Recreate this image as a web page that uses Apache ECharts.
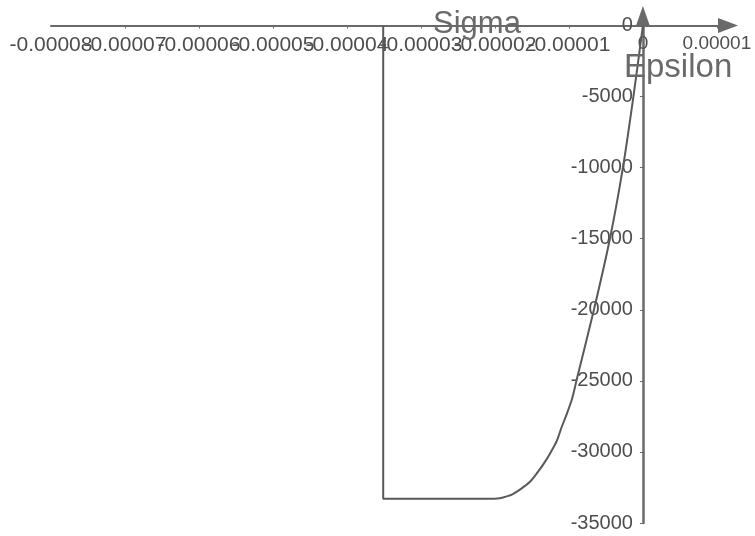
<!DOCTYPE html>
<html>
<head>
<meta charset="utf-8">
<script src="https://cdn.jsdelivr.net/npm/echarts@6/dist/echarts.min.js"></script>
<style>
html,body{margin:0;padding:0;background:#ffffff;}
#chart{width:755px;height:536px;}
</style>
</head>
<body>
<div id="chart"></div>
<script>
// Loading branch (curve)
const epsilonLoad = [0, -0.000001284, -0.000002703, -0.000004459, -0.000006622, -0.000008986, -0.000009595,
  -0.00001027, -0.000011014, -0.000011622, -0.000012432, -0.000013243, -0.000014189, -0.00001527,
  -0.000016486, -0.000017703, -0.000018919, -0.00002];
const sigmaLoad = [0, -5000, -10000, -15000, -20000, -25000, -26300,
  -27300, -28300, -29200, -30000, -30700, -31400, -32100,
  -32600, -33000, -33200, -33300];
// Plateau and unloading branch
const epsilonPlateau = [-0.00002, -0.0000351, -0.0000351];
const sigmaPlateau   = [-33300, -33300, 0];

// Axes
const xMin = -0.00008, xMax = 0.0000115, xStep = 0.00001;
const yMin = -35000, yMax = 670, yStep = 5000;
const xTickLabels = ['-0.00008','-0.00007','-0.00006','-0.00005','-0.00004','-0.00003','-0.00002','-0.00001','0','0.00001'];
const yTickLabels = ['-35000','-30000','-25000','-20000','-15000','-10000','-5000','0'];
const xName = 'Epsilon', yName = 'Sigma';

const axisColor = '#6a6a6a';
const textColor = '#4e4e4e';
const lineColor = '#595959';

// grid geometry
const gridLeft = 51, gridRight = 27, gridTop = 16, gridBottom = 13;
const W = 755, H = 536;
const gw = W - gridLeft - gridRight, gh = H - gridTop - gridBottom;
// place the axes through the origin (offset from their default edge)
const yAxisOffset = -gw * (0 - xMin) / (xMax - xMin);
const xAxisOffset = -gh * (0 - yMin) / (yMax - yMin);

function pairs(xs, ys){ return xs.map((x,i)=>[x, ys[i]]); }

function xIndex(v){
  const i = Math.round((v - xMin) / xStep);
  return Math.abs(v - (xMin + i * xStep)) > xStep * 1e-3 ? -1 : i;
}
// main axis: every tick label except the first
function xLabel(v){
  const i = xIndex(v);
  if (i <= 0) return '';
  const t = xTickLabels[i];
  if (t === undefined) return '';
  return (t.charAt(0) === '-') ? t : '{p|' + t + '}';
}
// helper axis: only the first tick label (kept even though it overlaps its neighbour)
function xFirstLabel(v){
  return xIndex(v) === 0 ? xTickLabels[0] : '';
}
function yLabel(v){
  const i = Math.round((v - yMin) / yStep);
  if (Math.abs(v - (yMin + i * yStep)) > 1e-6) return '';
  const t = yTickLabels[i];
  return t === undefined ? '' : t;
}

const baseX = {
  type: 'value', min: xMin, max: xMax, interval: xStep, position: 'bottom', offset: xAxisOffset,
  splitLine: {show: false}
};

const chart = echarts.init(document.getElementById('chart'), null, {renderer:'canvas'});
chart.setOption({
  backgroundColor: '#ffffff',
  animation: false,
  grid: {left: gridLeft, right: gridRight, top: gridTop, bottom: gridBottom, containLabel: false, outerBoundsMode: 'none'},
  xAxis: [
    Object.assign({}, baseX, {
      axisLine: {onZero: false, symbol: ['none','triangle'], symbolSize: [15, 20], lineStyle: {color: axisColor, width: 2}},
      axisTick: {show: true, length: 3, lineStyle: {color: axisColor}},
      axisLabel: {
        formatter: xLabel, margin: 9, fontSize: 21, color: textColor, fontFamily: 'Liberation Sans',
        hideOverlap: false, showMinLabel: false, showMaxLabel: false,
        rich: {p: {fontSize: 19, color: textColor, fontFamily: 'Liberation Sans'}}
      }
    }),
    Object.assign({}, baseX, {
      axisLine: {show: false, onZero: false},
      axisTick: {show: false},
      axisLabel: {
        formatter: xFirstLabel, margin: 9, fontSize: 21, color: textColor, fontFamily: 'Liberation Sans',
        hideOverlap: false, showMinLabel: true, showMaxLabel: false
      }
    })
  ],
  yAxis: {
    type: 'value', min: yMin, max: yMax, interval: yStep, position: 'left', offset: yAxisOffset,
    axisLine: {onZero: false, symbol: ['none','triangle'], symbolSize: [14, 20], lineStyle: {color: axisColor, width: 2.5}},
    axisTick: {show: true, length: 3, lineStyle: {color: axisColor}},
    splitLine: {show: false},
    axisLabel: {formatter: yLabel, margin: 10, fontSize: 20, color: textColor, fontFamily: 'Liberation Sans', hideOverlap: false, showMinLabel: true, showMaxLabel: false}
  },
  graphic: [
    {type: 'text', left: 433, top: 9, z: 10, style: {text: yName, fontSize: 31, fill: '#6a6a6a', fontFamily: 'Liberation Sans'}},
    {type: 'text', left: 624, top: 51, z: 10, style: {text: xName, fontSize: 33, fill: '#6a6a6a', fontFamily: 'Liberation Sans'}}
  ],
  series: [
    {type: 'line', xAxisIndex: 0, data: pairs(epsilonLoad, sigmaLoad), smooth: 0.3, showSymbol: false, symbol: 'none',
     lineStyle: {color: lineColor, width: 2}, z: 3},
    {type: 'line', xAxisIndex: 0, data: pairs(epsilonPlateau, sigmaPlateau), smooth: false, showSymbol: false, symbol: 'none',
     lineStyle: {color: lineColor, width: 2}, z: 3}
  ]
});
</script>
</body>
</html>
